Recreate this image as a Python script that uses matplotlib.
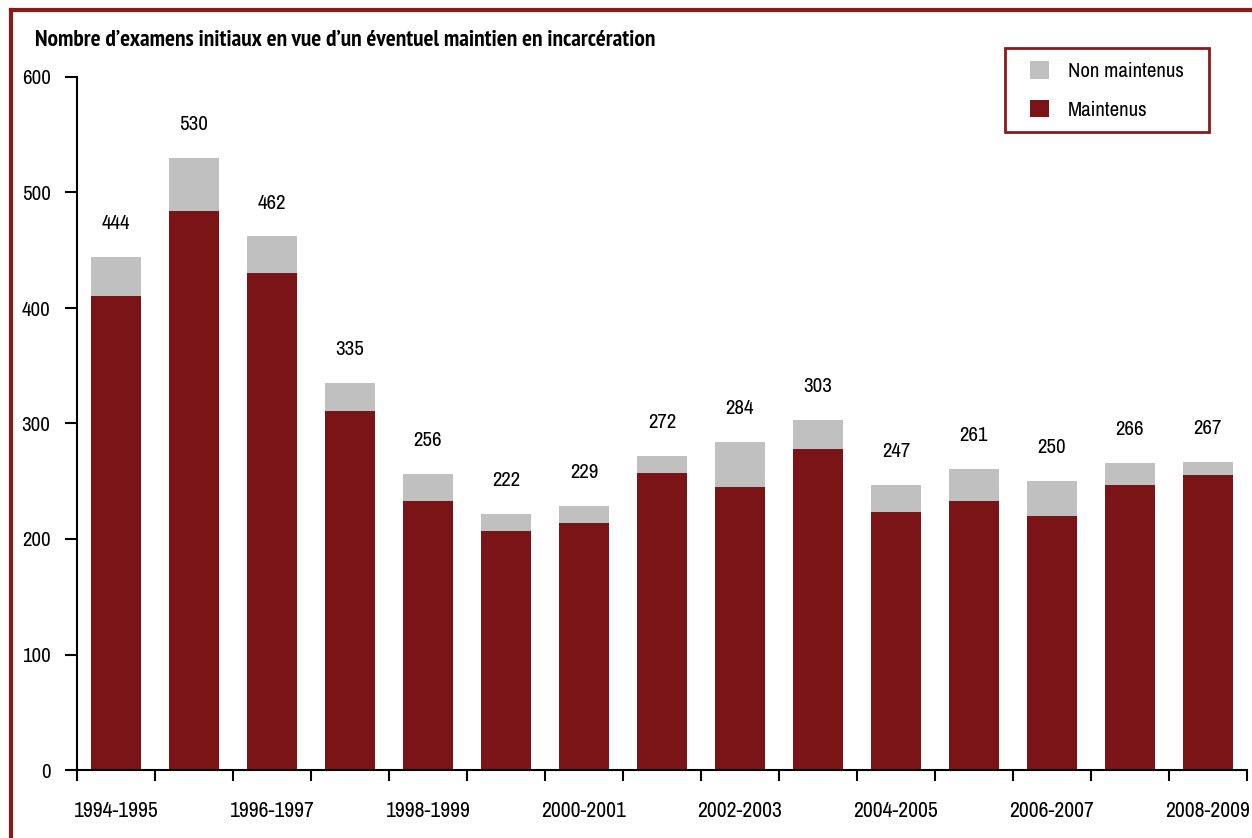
import matplotlib
matplotlib.use("Agg")
import matplotlib.pyplot as plt
from matplotlib.patches import Patch, Rectangle
from matplotlib.lines import Line2D
from matplotlib import font_manager
import numpy as np


def _weight(f):
    w = f.weight
    if isinstance(w, str):
        return {"normal": 400, "regular": 400, "book": 400, "bold": 700,
                "light": 300, "medium": 500}.get(w.lower(), 400)
    return int(w)


def pick_face(bold):
    """Find a narrow sans-serif face of the wanted weight."""
    target = 700 if bold else 400
    faces = [f for f in font_manager.fontManager.ttflist
             if ("Narrow" in f.name or "Condensed" in f.name
                 or f.stretch in ("condensed", "semi-condensed"))
             and f.style == "normal"]
    faces.sort(key=lambda f: (abs(_weight(f) - target),
                              0 if "Narrow" in f.name else 1))
    if faces and abs(_weight(faces[0]) - target) <= 100:
        return faces[0].fname
    return None


reg_file = pick_face(False)
bold_file = pick_face(True)
plt.rcParams['font.family'] = ['Liberation Sans', 'DejaVu Sans']


def fp(size, bold=False):
    path = bold_file if bold else reg_file
    if path:
        return font_manager.FontProperties(fname=path, size=size)
    return font_manager.FontProperties(family=['Liberation Sans', 'DejaVu Sans'],
                                       size=size * 0.85,
                                       weight="bold" if bold else "normal")


years = ["1994-1995", "1995-1996", "1996-1997", "1997-1998", "1998-1999",
         "1999-2000", "2000-2001", "2001-2002", "2002-2003", "2003-2004",
         "2004-2005", "2005-2006", "2006-2007", "2007-2008", "2008-2009"]
totals = [444, 530, 462, 335, 256, 222, 229, 272, 284, 303, 247, 261, 250, 266, 267]
maintenus = [410, 484, 430, 311, 233, 207, 214, 257, 245, 278, 223, 233, 220, 247, 255]
non_maintenus = [t - m for t, m in zip(totals, maintenus)]

MAROON = "#7B1416"
GREY = "#C0C0C0"
FRAME = "#8B1A1A"

W, H = 1252, 838
fig = plt.figure(figsize=(W / 100, H / 100), dpi=100)
ax = fig.add_axes([77 / W, 1 - 770 / H, 1170 / W, 693 / H])

x = np.arange(len(years))
w = 0.64
ax.bar(x, maintenus, width=w, color=MAROON, label="Maintenus", zorder=2)
ax.bar(x, non_maintenus, width=w, bottom=maintenus, color=GREY,
       label="Non maintenus", zorder=2)

for xi, t in zip(x, totals):
    ax.annotate(str(t), (xi, t), xytext=(0, 24), textcoords="offset points",
                ha="center", va="center", fontproperties=fp(15))

ax.set_xlim(-0.5, len(years) - 0.5)
ax.set_ylim(0, 600)
ax.set_yticks(range(0, 601, 100))
ax.tick_params(axis="y", direction="out", length=9, width=1.5, pad=10)
for lab in ax.get_yticklabels():
    lab.set_fontproperties(fp(15))

# boundary ticks between categories, labels under every other year
ax.set_xticks(np.arange(-0.5, len(years), 1.0))
ax.set_xticklabels([])
ax.set_xticks(x[::2], minor=True)
ax.set_xticklabels(years[::2], minor=True, fontproperties=fp(15.5))
ax.tick_params(axis="x", which="major", direction="out", length=8, width=1.5)
ax.tick_params(axis="x", which="minor", length=0, pad=22)

for s in ("top", "right"):
    ax.spines[s].set_visible(False)
for s in ("left", "bottom"):
    ax.spines[s].set_linewidth(1.5)

fig.text(35 / W, 1 - 40 / H,
         "Nombre d\u2019examens initiaux en vue d\u2019un \u00e9ventuel maintien en incarc\u00e9ration",
         fontproperties=fp(16.8, bold=True), va="center", ha="left")

# legend entries inside a separately drawn box
handles = [Patch(facecolor=GREY, edgecolor="none"),
           Patch(facecolor=MAROON, edgecolor="none")]
leg = fig.legend(handles, ["Non maintenus", "Maintenus"],
                 loc="center left", bbox_to_anchor=(1030 / W, 1 - 90.5 / H),
                 frameon=False, prop=fp(15),
                 handlelength=0.9, handleheight=0.9, handletextpad=0.9,
                 borderpad=0, labelspacing=0.9, borderaxespad=0)
fig.add_artist(Rectangle((1005 / W, 1 - 132 / H), 204 / W, 84 / H,
                         transform=fig.transFigure, fill=False,
                         edgecolor=FRAME, linewidth=2))

# outer frame along the top and left edges
fig.add_artist(Line2D([10.5 / W, 1], [1 - 10.5 / H, 1 - 10.5 / H],
                      color=FRAME, linewidth=3, transform=fig.transFigure))
fig.add_artist(Line2D([10.5 / W, 10.5 / W], [0, 1 - 10.5 / H],
                      color=FRAME, linewidth=3, transform=fig.transFigure))

fig.savefig("out.png", dpi=100)
